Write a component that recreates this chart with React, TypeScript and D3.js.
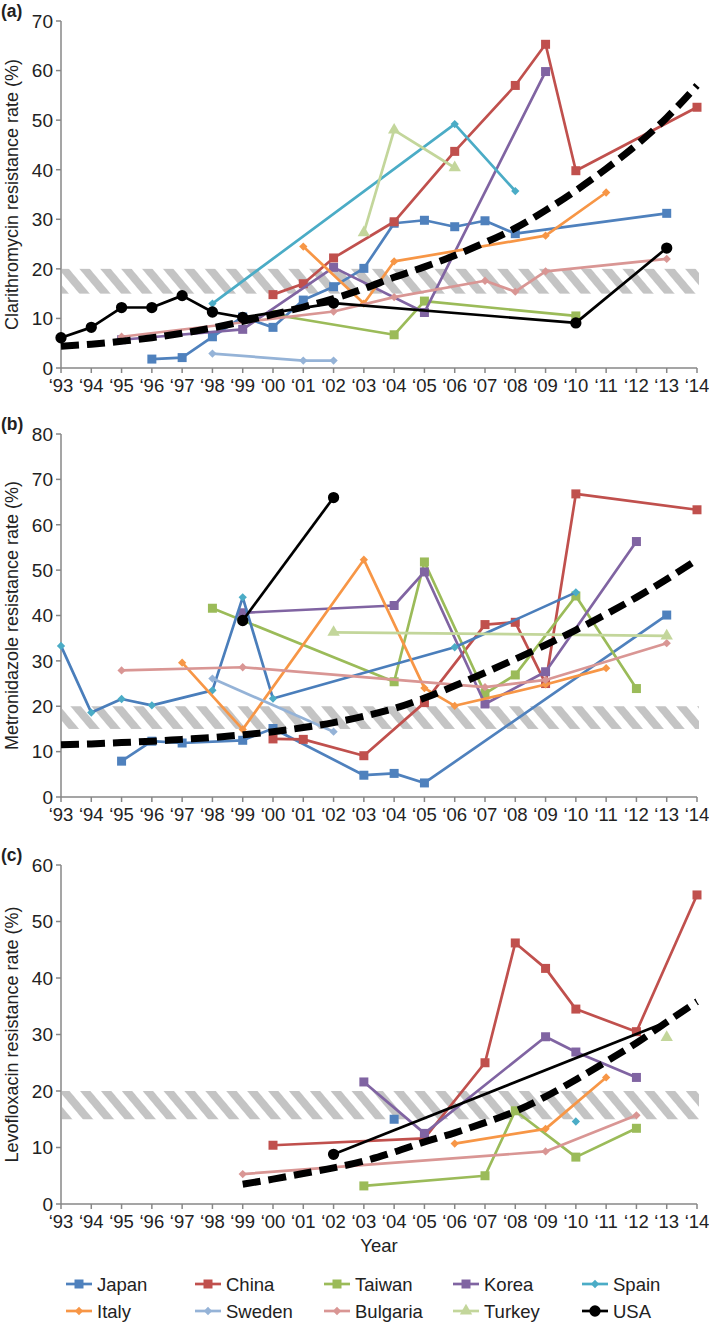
import * as d3 from 'd3';

// Countries as listed in the legend, with their Excel-style colours and marker shapes
const countries = ['Japan', 'China', 'Taiwan', 'Korea', 'Spain', 'Italy', 'Sweden', 'Bulgaria', 'Turkey', 'USA'];
const colors = ['#4F81BD', '#C0504D', '#9BBB59', '#8064A2', '#4BACC6', '#F79646', '#95B3D7', '#D99694', '#C3D69B', '#000000'];
const shapes = ['square', 'square', 'square', 'square', 'diamond', 'diamond', 'diamond', 'diamond', 'triangle', 'circle'];

const years = [1993, 1994, 1995, 1996, 1997, 1998, 1999, 2000, 2001, 2002, 2003, 2004, 2005, 2006, 2007, 2008, 2009, 2010, 2011, 2012, 2013, 2014];
const yearLabels = ['‘93', '‘94', '‘95', '‘96', '‘97', '‘98', '‘99', '‘00', '‘01', '‘02', '‘03', '‘04', '‘05', '‘06', '‘07', '‘08', '‘09', '‘10', '‘11', '‘12', '‘13', '‘14'];

type Pt = [number, number];

// (a) Clarithromycin
const clarithromycin: Record<string, Pt[]> = {
  Japan: [[1996, 1.8], [1997, 2.1], [1998, 6.3], [1999, 10.3], [2000, 8.2], [2001, 13.7], [2002, 16.4], [2003, 20.1], [2004, 29.2], [2005, 29.8], [2006, 28.5], [2007, 29.7], [2008, 27.1], [2013, 31.2]],
  China: [[2000, 14.8], [2001, 17], [2002, 22.2], [2004, 29.5], [2006, 43.7], [2008, 57], [2009, 65.3], [2010, 39.8], [2014, 52.6]],
  Taiwan: [[2000, 10.8], [2004, 6.7], [2005, 13.5], [2010, 10.5]],
  Korea: [[1995, 5.7], [1999, 7.8], [2002, 20.3], [2005, 11.2], [2009, 59.8]],
  Spain: [[1998, 13], [2006, 49.2], [2008, 35.7]],
  Italy: [[2001, 24.5], [2003, 13], [2004, 21.5], [2009, 26.7], [2011, 35.4]],
  Sweden: [[1998, 2.9], [2001, 1.5], [2002, 1.5]],
  Bulgaria: [[1995, 6.3], [2002, 11.4], [2004, 14.3], [2007, 17.6], [2008, 15.4], [2009, 19.5], [2013, 22]],
  Turkey: [[2003, 27.3], [2004, 48], [2006, 40.4]],
  USA: [[1993, 6.1], [1994, 8.2], [1995, 12.2], [1996, 12.2], [1997, 14.6], [1998, 11.3], [1999, 10.2], [2002, 13.1], [2010, 9.1], [2013, 24.2]],
};
const clarTrend = [4.4, 4.8, 5.4, 6.1, 7, 8.1, 9.4, 10.8, 12.3, 14, 16, 18.3, 20.4, 22.7, 25.3, 28.2, 31.8, 35.8, 40.2, 45, 50.5, 57];

// (b) Metronidazole
const metronidazole: Record<string, Pt[]> = {
  Japan: [[1995, 7.9], [1996, 12.3], [1997, 11.9], [1999, 12.5], [2000, 15.1], [2003, 4.8], [2004, 5.2], [2005, 3.1], [2013, 40.1]],
  China: [[2000, 12.8], [2001, 12.7], [2003, 9.1], [2005, 20.8], [2007, 38], [2008, 38.5], [2009, 25], [2010, 66.8], [2014, 63.3]],
  Taiwan: [[1998, 41.6], [2004, 25.4], [2005, 51.8], [2007, 22.8], [2008, 26.9], [2010, 44.3], [2012, 23.9]],
  Korea: [[1999, 40.6], [2004, 42.2], [2005, 49.6], [2007, 20.5], [2009, 27.6], [2012, 56.3]],
  Spain: [[1993, 33.3], [1994, 18.6], [1995, 21.6], [1996, 20.2], [1998, 23.5], [1999, 44], [2000, 21.7], [2006, 33], [2010, 45.1]],
  Italy: [[1997, 29.6], [1999, 14.9], [2003, 52.3], [2005, 24], [2006, 20.1], [2009, 24.8], [2011, 28.4]],
  Sweden: [[1998, 26.1], [2002, 14.4]],
  Bulgaria: [[1995, 27.9], [1999, 28.6], [2007, 24.2], [2009, 25.8], [2013, 33.9]],
  Turkey: [[2002, 36.3], [2013, 35.5]],
  USA: [[1999, 38.9], [2002, 66]],
};
const metroTrend = [11.5, 11.7, 12, 12.3, 12.7, 13.1, 13.7, 14.4, 15.3, 16.4, 17.8, 19.5, 21.8, 24.5, 27.4, 30.4, 33.5, 36.8, 40.3, 44, 48, 52.3];

// (c) Levofloxacin
const levofloxacin: Record<string, Pt[]> = {
  Japan: [[2004, 15]],
  China: [[2000, 10.4], [2005, 11.6], [2007, 25], [2008, 46.2], [2009, 41.7], [2010, 34.5], [2012, 30.5], [2014, 54.7]],
  Taiwan: [[2003, 3.2], [2007, 5], [2008, 16.5], [2010, 8.3], [2012, 13.4]],
  Korea: [[2003, 21.6], [2005, 12.5], [2009, 29.6], [2010, 26.9], [2012, 22.4]],
  Spain: [[2010, 14.6]],
  Italy: [[2006, 10.7], [2009, 13.3], [2011, 22.4]],
  Sweden: [],
  Bulgaria: [[1999, 5.3], [2009, 9.3], [2012, 15.7]],
  Turkey: [[2013, 29.5]],
  USA: [[2002, 8.8], [2013, 32.2]],
};
const levoTrendYears = [1999, 2000, 2001, 2002, 2003, 2004, 2005, 2006, 2007, 2008, 2009, 2010, 2011, 2012, 2013, 2014];
const levoTrend = [3.5, 4.4, 5.4, 6.4, 7.6, 9.2, 11, 12.6, 14.4, 16.4, 19, 22, 25.2, 28.5, 32.2, 35.8];

// the 15-20% hatched band
const bandLow = 15;
const bandHigh = 20;

const FONT = '"Liberation Sans", Arial, Helvetica, sans-serif';
const TEXT = '#222';
const AXIS = '#878787';

const x = d3.scaleLinear().domain([1993, 2014]).range([61, 697]);

const symbolTypes: Record<string, d3.SymbolType> = {
  square: d3.symbolSquare,
  diamond: d3.symbolDiamond2,
  triangle: d3.symbolTriangle,
  circle: d3.symbolCircle,
};
const symbolSizes: Record<string, number> = { square: 81, diamond: 44, triangle: 66, circle: 100 };

const Marker = ({ shape, cx, cy, color }: { shape: string; cx: number; cy: number; color: string }) => {
  const path = d3.symbol(symbolTypes[shape], symbolSizes[shape])() || '';
  return <path d={path} transform={`translate(${cx},${cy})`} fill={color} />;
};

type PanelCfg = {
  label: string;
  title: string;
  yMax: number;
  top: number;
  bottom: number;
  data: Record<string, Pt[]>;
  trendYears: number[];
  trend: number[];
  lineOverride?: Record<string, string>;
  noMarker?: Record<string, number[]>;
};

const panels: PanelCfg[] = [
  { label: '(a)', title: 'Clarithromycin resistance rate (%)', yMax: 70, top: 21, bottom: 368, data: clarithromycin, trendYears: years, trend: clarTrend },
  {
    label: '(b)', title: 'Metronidazole resistance rate (%)', yMax: 80, top: 434, bottom: 797, data: metronidazole, trendYears: years, trend: metroTrend,
    // in this panel the Spain line is drawn in the darker blue
    lineOverride: { Spain: '#4A7EBB' },
  },
  {
    label: '(c)', title: 'Levofloxacin resistance rate (%)', yMax: 60, top: 865, bottom: 1204, data: levofloxacin, trendYears: levoTrendYears, trend: levoTrend,
    noMarker: { USA: [2013] },
  },
];

const Panel = ({ cfg }: { cfg: PanelCfg }) => {
  const y = d3.scaleLinear().domain([0, cfg.yMax]).range([cfg.bottom, cfg.top]);
  const yTicks = d3.range(0, cfg.yMax + 1, 10);
  const line = d3.line<Pt>().x((d) => x(d[0])).y((d) => y(d[1]));
  const trendLine = d3
    .line<number>()
    .x((_, i) => x(cfg.trendYears[i]))
    .y((d) => y(d))
    .curve(d3.curveMonotoneX);
  const [x0, x1] = x.range();

  return (
    <g>
      <text x={1} y={cfg.top - 4} fontFamily={FONT} fontWeight="bold" fontSize={17.5} fill={TEXT}>
        {cfg.label}
      </text>
      <text
        transform={`translate(12,${(cfg.top + cfg.bottom) / 2}) rotate(-90)`}
        textAnchor="middle"
        dominantBaseline="central"
        fontFamily={FONT}
        fontSize={18}
        fill={TEXT}
      >
        {cfg.title}
      </text>

      {/* hatched band */}
      <rect x={x0 + 1} y={y(bandHigh)} width={x1 - x0 + 1} height={y(bandLow) - y(bandHigh)} fill="url(#hatch)" />

      {/* axes */}
      <line x1={x0} x2={x0} y1={cfg.top} y2={cfg.bottom} stroke={AXIS} strokeWidth={1.5} />
      <line x1={x0} x2={x1} y1={cfg.bottom} y2={cfg.bottom} stroke={AXIS} strokeWidth={1.5} />
      {yTicks.map((t) => (
        <g key={t}>
          <line x1={x0 - 5} x2={x0} y1={y(t)} y2={y(t)} stroke={AXIS} strokeWidth={1.5} />
          <text x={x0 - 8} y={y(t)} dy="0.36em" textAnchor="end" fontFamily={FONT} fontSize={19} fill={TEXT}>
            {t}
          </text>
        </g>
      ))}
      {years.map((yr, i) => (
        <g key={yr}>
          <line x1={x(yr)} x2={x(yr)} y1={cfg.bottom} y2={cfg.bottom + 5} stroke={AXIS} strokeWidth={1.5} />
          <text x={x(yr)} y={cfg.bottom + 24} textAnchor="middle" fontFamily={FONT} fontSize={18.5} fill={TEXT}>
            {yearLabels[i]}
          </text>
        </g>
      ))}

      {/* country series */}
      {countries.map((c, ci) => {
        const pts = cfg.data[c] || [];
        const stroke = (cfg.lineOverride && cfg.lineOverride[c]) || colors[ci];
        const skip = (cfg.noMarker && cfg.noMarker[c]) || [];
        return (
          <g key={c}>
            {pts.length > 1 && (
              <path d={line(pts) || ''} fill="none" stroke={stroke} strokeWidth={2.7} strokeLinejoin="round" />
            )}
            {pts
              .filter((p) => !skip.includes(p[0]))
              .map((p) => (
                <Marker key={p[0]} shape={shapes[ci]} cx={x(p[0])} cy={y(p[1])} color={colors[ci]} />
              ))}
          </g>
        );
      })}

      {/* overall trend */}
      <path d={trendLine(cfg.trend) || ''} fill="none" stroke="#000" strokeWidth={7} strokeDasharray="18 8" />
    </g>
  );
};

const legendCols = [97, 226, 355, 484, 613];
const legendRows = [1284, 1311];

const App = () => {
  return (
    <svg width={709} height={1322} style={{ position: 'absolute', left: 0, top: 0, background: '#fff' }}>
      <defs>
        <pattern id="hatch" patternUnits="userSpaceOnUse" width={16} height={16} patternTransform="rotate(-40)">
          <rect x={0} y={0} width={8} height={16} fill="#c4c4c4" />
        </pattern>
      </defs>
      <rect width={709} height={1322} fill="#fff" />
      {panels.map((p) => (
        <Panel key={p.label} cfg={p} />
      ))}
      <text x={(x.range()[0] + x.range()[1]) / 2} y={1252} textAnchor="middle" fontFamily={FONT} fontSize={18.5} fill={TEXT}>
        Year
      </text>

      {/* Legend */}
      {countries.map((c, i) => {
        const lx = legendCols[i % 5];
        const ly = legendRows[Math.floor(i / 5)];
        return (
          <g key={c}>
            <line x1={lx - 31} x2={lx - 5} y1={ly} y2={ly} stroke={colors[i]} strokeWidth={2.7} />
            <Marker shape={shapes[i]} cx={lx - 18} cy={ly} color={colors[i]} />
            <text x={lx} y={ly} dy="0.36em" fontFamily={FONT} fontSize={18.5} fill={TEXT}>
              {c}
            </text>
          </g>
        );
      })}
    </svg>
  );
};

export default App;
